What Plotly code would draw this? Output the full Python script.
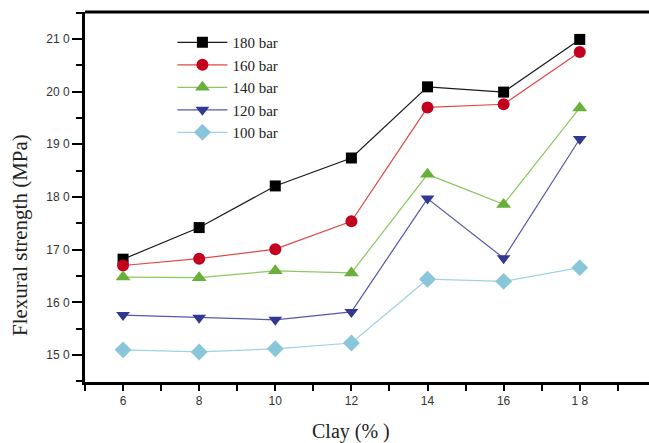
import plotly.graph_objects as go

clay = [6, 8, 10, 12, 14, 16, 18]
s180 = [168.2, 174.2, 182.1, 187.4, 200.9, 199.9, 209.9]
s160 = [167.0, 168.3, 170.1, 175.4, 197.0, 197.6, 207.5]
s140 = [164.8, 164.7, 166.0, 165.6, 184.3, 178.6, 196.9]
s120 = [157.6, 157.1, 156.7, 158.2, 179.7, 168.4, 191.0]
s100 = [151.0, 150.6, 151.2, 152.3, 164.4, 164.0, 166.6]

series_names = ["180 bar", "160 bar", "140 bar", "120 bar", "100 bar"]
y_tickvals = [150, 160, 170, 180, 190, 200, 210]
y_ticktext = ["15 0", "16 0", "17 0", "18 0", "19 0", "20 0", "21 0"]
x_tickvals = [6, 8, 10, 12, 14, 16, 18]
x_ticktext = ["6", "8", "10", "12", "14", "16", "1 8"]
x_title = "Clay (% )"
y_title = "Flexural strength (MPa)"

styles = [
    dict(line="#1a1a1a", marker="#000000", symbol="square", size=11),
    dict(line="#e04848", marker="#c4001f", symbol="circle", size=12),
    dict(line="#8cc860", marker="#6aaf3a", symbol="triangle-up", size=13),
    dict(line="#5558a8", marker="#32388f", symbol="triangle-down", size=12),
    dict(line="#9ed2e4", marker="#8ac6da", symbol="diamond", size=13),
]

fig = go.Figure()
for name, ys, st in zip(series_names, [s180, s160, s140, s120, s100], styles):
    fig.add_trace(go.Scatter(
        x=clay, y=ys, name=name, mode="lines+markers",
        line=dict(color=st["line"], width=1.2),
        marker=dict(color=st["marker"], symbol=st["symbol"], size=st["size"],
                    line=dict(width=0)),
    ))

fig.update_layout(
    width=649, height=443,
    margin=dict(l=85, r=0, t=12, b=61, autoexpand=False),
    paper_bgcolor="white", plot_bgcolor="white",
    showlegend=True,
    legend=dict(x=0.155, y=0.962, xanchor="left", yanchor="top",
                bgcolor="rgba(0,0,0,0)", tracegroupgap=0,
                font=dict(family="Liberation Serif", size=15, color="#222"),
                itemwidth=50),
    xaxis=dict(
        range=[5, 19.82], tickvals=x_tickvals, ticktext=x_ticktext,
        ticks="outside", ticklen=6, tickwidth=2, tickcolor="black",
        minor=dict(dtick=1, tick0=5, ticks="outside", ticklen=6, tickwidth=2, tickcolor="black"),
        showline=True, linewidth=3, linecolor="black",
        showgrid=False, zeroline=False, automargin=False,
        tickfont=dict(family="Arial, Liberation Sans", size=12, color="#333"),
    ),
    yaxis=dict(
        range=[144.9, 215.1], tickvals=y_tickvals, ticktext=y_ticktext,
        ticks="outside", ticklen=10, tickwidth=2, tickcolor="black",
        minor=dict(dtick=5, tick0=145, ticks="outside", ticklen=6, tickwidth=2, tickcolor="black"),
        showline=True, linewidth=3, linecolor="black",
        showgrid=False, zeroline=False, automargin=False,
        tickfont=dict(family="Arial, Liberation Sans", size=12, color="#333"),
    ),
    shapes=[dict(type="line", xref="paper", yref="paper", x0=0, x1=1, y0=1, y1=1,
                 line=dict(color="black", width=3))],
    annotations=[
        dict(text=x_title, xref="paper", yref="paper", x=(351 - 85) / 564, y=-(431 - 382) / 370,
             xanchor="center", yanchor="middle", showarrow=False,
             font=dict(family="Liberation Serif", size=20, color="#222")),
        dict(text=y_title, xref="paper", yref="paper", x=-(85 - 20) / 564, y=(382 - 235) / 370,
             xanchor="center", yanchor="middle", showarrow=False, textangle=-90,
             font=dict(family="Liberation Serif", size=21, color="#222")),
    ],
)

fig.write_html("out.html", config={"displayModeBar": False},
               post_script="document.body.style.margin='0';document.body.style.overflow='hidden';")
